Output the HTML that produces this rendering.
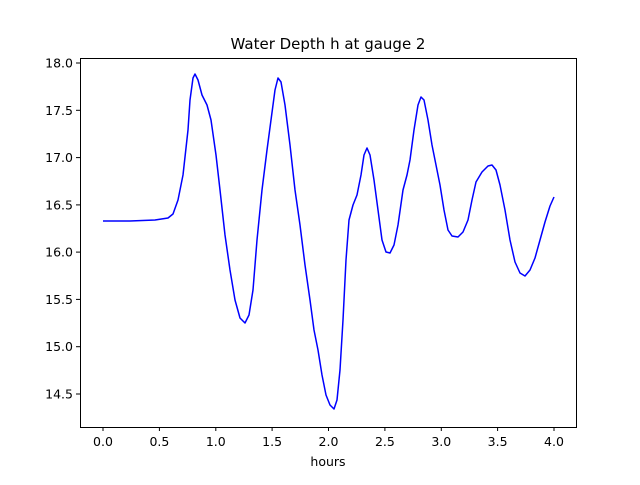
<!DOCTYPE html>
<html><head><meta charset="utf-8"><style>
body{margin:0;background:#fff}
svg text{font-family:"DejaVu Sans","Liberation Sans",sans-serif;font-size:12.5px;fill:#000}
</style></head><body>
<svg width="640" height="480" xmlns="http://www.w3.org/2000/svg">
<rect width="640" height="480" fill="#fff"/>
<text x="328" y="49" text-anchor="middle" style="font-size:15px">Water Depth h at gauge 2</text>
<polyline fill="none" stroke="#0000ff" stroke-width="1.5" stroke-linejoin="round" points="103,221 130,221 155,220 168,218 173,214 178,200 183,175 188,130 190,100 193,78 195,74 198,80 202,95 207,105 211,120 216,155 220,190 225,235 230,270 235,300 240,318 245,323 249,315 253,290 257,240 262,190 267,150 271,120 275,90 278,78 281,82 285,105 290,145 295,190 300,225 305,265 310,300 314,330 318,350 322,375 326,395 330,405 334,409 337,400 340,370 343,320 346,260 349,220 353,205 357,195 361,175 364,155 367,148 370,155 374,180 378,210 382,240 386,252 390,253 394,245 398,225 403,190 407,175 410,160 414,130 418,105 421,97 424,100 428,120 432,145 436,165 440,185 444,210 448,230 452,236 458,237 463,232 468,220 472,200 476,182 482,172 488,166 492,165 496,170 500,185 505,210 510,240 515,262 520,273 525,276 530,270 535,258 540,240 545,222 550,206 554,197"/>
<rect x="80.5" y="58.5" width="496" height="369" fill="none" stroke="#000" stroke-width="1"/>
<g stroke="#000" stroke-width="1">
<line x1="103" y1="427" x2="103" y2="431"/><line x1="159.4" y1="427" x2="159.4" y2="431"/><line x1="215.8" y1="427" x2="215.8" y2="431"/><line x1="272.1" y1="427" x2="272.1" y2="431"/><line x1="328.5" y1="427" x2="328.5" y2="431"/><line x1="384.9" y1="427" x2="384.9" y2="431"/><line x1="441.3" y1="427" x2="441.3" y2="431"/><line x1="497.6" y1="427" x2="497.6" y2="431"/><line x1="554" y1="427" x2="554" y2="431"/>
<line x1="76" y1="63" x2="80" y2="63"/><line x1="76" y1="110.3" x2="80" y2="110.3"/><line x1="76" y1="157.6" x2="80" y2="157.6"/><line x1="76" y1="204.9" x2="80" y2="204.9"/><line x1="76" y1="252.1" x2="80" y2="252.1"/><line x1="76" y1="299.4" x2="80" y2="299.4"/><line x1="76" y1="346.7" x2="80" y2="346.7"/><line x1="76" y1="394" x2="80" y2="394"/>
</g>
<g text-anchor="middle">
<text x="103" y="446">0.0</text><text x="159.4" y="446">0.5</text><text x="215.8" y="446">1.0</text><text x="272.1" y="446">1.5</text><text x="328.5" y="446">2.0</text><text x="384.9" y="446">2.5</text><text x="441.3" y="446">3.0</text><text x="497.6" y="446">3.5</text><text x="554" y="446">4.0</text>
<text x="328" y="466">hours</text>
</g>
<g text-anchor="end">
<text x="73" y="67.5">18.0</text><text x="73" y="114.8">17.5</text><text x="73" y="162.1">17.0</text><text x="73" y="209.4">16.5</text><text x="73" y="256.6">16.0</text><text x="73" y="303.9">15.5</text><text x="73" y="351.2">15.0</text><text x="73" y="398.5">14.5</text>
</g>
</svg>
</body></html>
